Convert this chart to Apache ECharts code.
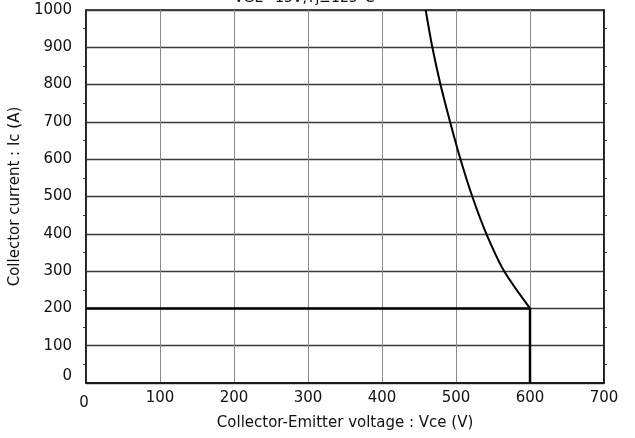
<!DOCTYPE html>
<html>
<head>
<meta charset="utf-8">
<script src="https://cdn.jsdelivr.net/npm/echarts@6/dist/echarts.min.js"></script>
<style>html,body{margin:0;padding:0;background:#fff}#c{width:635px;height:438px}</style>
</head>
<body>
<div id="c"></div>
<script>
// Data
var xTicks = [0, 100, 200, 300, 400, 500, 600, 700];
var yTicks = [0, 100, 200, 300, 400, 500, 600, 700, 800, 900, 1000];
var limitLine = [[0, 200], [600, 200], [600, 0]];
var curveVce = [459, 468, 479, 492, 506, 522, 541, 565, 600];
var curveIc  = [1000, 900, 800, 700, 600, 500, 400, 300, 200];
var titleText = 'VGE=15V,Tj≤125°C';

var curve = curveVce.map(function (v, i) { return [v, curveIc[i]]; });
var font = 'DejaVu Sans';

var chart = echarts.init(document.getElementById('c'));
chart.setOption({
  animation: false,
  backgroundColor: '#fff',
  graphic: [{
    type: 'text', left: 234, top: -9,
    style: { text: titleText, font: '14px "DejaVu Sans"', fill: '#111' }
  }],
  grid: { left: 85, right: 31, top: 10, bottom: 55, show: true, borderColor: '#111', borderWidth: 1.5 },
  xAxis: {
    type: 'value', min: xTicks[0], max: xTicks[xTicks.length - 1], interval: 100,
    name: 'Collector-Emitter voltage : Vce (V)', nameLocation: 'middle', nameGap: 33,
    nameTextStyle: { fontFamily: font, fontSize: 15, color: '#111' },
    axisLine: { lineStyle: { color: '#111', width: 1.5 } },
    axisTick: { show: false },
    axisLabel: { fontFamily: font, fontSize: 15, color: '#111', margin: 8,
      formatter: function (v) { return v === 0 ? '{z|0}' : String(v); },
      rich: { z: { fontFamily: font, fontSize: 15, color: '#111', padding: [5, 4, 0, 0] } } },
    splitLine: { show: true, lineStyle: { color: '#8a8a8a', width: 1 } }
  },
  yAxis: [{
    type: 'value', min: yTicks[0], max: yTicks[yTicks.length - 1], interval: 100,
    name: 'Collector current : Ic (A)', nameLocation: 'middle', nameGap: 56,
    nameTextStyle: { fontFamily: font, fontSize: 15, color: '#111' },
    axisLine: { lineStyle: { color: '#111', width: 1.5 } },
    axisTick: { show: false },
    minorTick: { show: true, splitNumber: 2, length: 3, lineStyle: { color: '#333' } },
    axisLabel: { fontFamily: font, fontSize: 15, color: '#111', margin: 14,
      formatter: function (v) { return v === 0 ? '{z|0}' : String(v); },
      rich: { z: { fontFamily: font, fontSize: 15, color: '#111', padding: [0, 0, 14, 0] } } },
    splitLine: { show: true, lineStyle: { color: '#3a3a3a', width: 1.4 } }
  }, {
    type: 'value', position: 'right', min: yTicks[0], max: yTicks[yTicks.length - 1], interval: 100,
    axisLine: { show: true, lineStyle: { color: '#111', width: 1.5 } },
    axisTick: { show: false },
    minorTick: { show: true, splitNumber: 2, length: 3, lineStyle: { color: '#333' } },
    axisLabel: { show: false },
    splitLine: { show: false }
  }],
  series: [{
    type: 'line', data: limitLine, showSymbol: false, symbol: 'none',
    lineStyle: { color: '#000', width: 2.5 }, z: 5
  }, {
    type: 'line', data: curve, smooth: 0.3, showSymbol: false, symbol: 'none',
    lineStyle: { color: '#000', width: 2 }, z: 5
  }]
});
</script>
</body>
</html>
